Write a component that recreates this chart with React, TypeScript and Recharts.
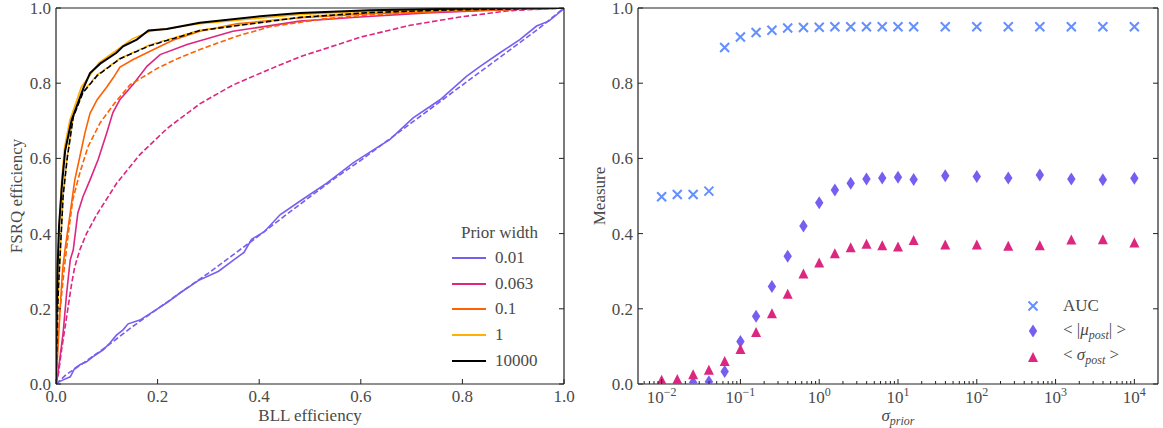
import React from 'react';
import { LineChart, Line, XAxis, YAxis, ScatterChart, Scatter, Legend } from 'recharts';

const FONT = '"Liberation Serif", "DejaVu Serif", serif';
const INK = '#4a4a4a';
const SPINE = '#222';
const FS = 17;

const PURPLE = '#785ef0';
const MAGENTA = '#dc267f';
const ORANGE = '#fe6100';
const GOLD = '#ffb000';
const BLUE = '#648fff';

// ---------- left panel: ROC curves [BLL efficiency, FSRQ efficiency]
const priorWidths = ['0.01', '0.063', '0.1', '1', '10000'];
const priorColors = [PURPLE, MAGENTA, ORANGE, GOLD, '#000'];

const solid001 = [[0,0],[0.005,0.005],[0.014,0.011],[0.028,0.019],[0.037,0.042],[0.047,0.051],[0.06,0.059],[0.073,0.073],[0.093,0.091],[0.106,0.109],[0.119,0.13],[0.132,0.144],[0.142,0.16],[0.165,0.17],[0.192,0.193],[0.218,0.216],[0.244,0.242],[0.28,0.275],[0.32,0.3],[0.35,0.33],[0.37,0.35],[0.385,0.385],[0.41,0.405],[0.441,0.45],[0.48,0.486],[0.533,0.534],[0.585,0.588],[0.631,0.628],[0.657,0.65],[0.703,0.708],[0.756,0.756],[0.808,0.818],[0.835,0.845],[0.874,0.881],[0.913,0.916],[0.946,0.952],[0.97,0.965],[0.998,0.996],[1,1]];
const dash001 = [[0,0],[0.02,0.025],[0.05,0.052],[0.1,0.1],[0.15,0.152],[0.2,0.2],[0.25,0.248],[0.3,0.295],[0.35,0.345],[0.4,0.395],[0.45,0.447],[0.5,0.498],[0.55,0.548],[0.6,0.595],[0.65,0.645],[0.7,0.695],[0.75,0.745],[0.8,0.795],[0.85,0.845],[0.9,0.895],[0.95,0.945],[1,1]];

const solid0063 = [[0,0],[0.003,0.019],[0.008,0.072],[0.014,0.136],[0.021,0.242],[0.028,0.33],[0.034,0.357],[0.043,0.455],[0.053,0.498],[0.067,0.543],[0.083,0.597],[0.1,0.668],[0.112,0.722],[0.126,0.757],[0.152,0.797],[0.179,0.845],[0.205,0.876],[0.258,0.903],[0.348,0.938],[0.48,0.965],[0.598,0.976],[0.73,0.987],[0.86,0.994],[1,1]];
const dash0063 = [[0,0],[0.005,0.029],[0.011,0.091],[0.021,0.179],[0.031,0.269],[0.037,0.312],[0.047,0.357],[0.06,0.4],[0.081,0.452],[0.12,0.535],[0.165,0.61],[0.219,0.68],[0.283,0.745],[0.348,0.795],[0.415,0.834],[0.48,0.87],[0.598,0.922],[0.697,0.954],[0.795,0.976],[0.894,0.993],[1,1]];

const solid01 = [[0,0],[0.0026,0.064],[0.008,0.197],[0.013,0.304],[0.018,0.36],[0.028,0.455],[0.037,0.543],[0.047,0.605],[0.057,0.668],[0.067,0.72],[0.081,0.756],[0.1,0.79],[0.113,0.815],[0.126,0.843],[0.152,0.863],[0.185,0.885],[0.231,0.915],[0.283,0.938],[0.356,0.958],[0.48,0.974],[0.618,0.985],[0.776,0.992],[1,1]];
const dash01 = [[0,0],[0.002,0.104],[0.008,0.197],[0.016,0.304],[0.024,0.397],[0.033,0.49],[0.047,0.562],[0.063,0.631],[0.087,0.695],[0.116,0.748],[0.146,0.796],[0.2,0.84],[0.24,0.866],[0.29,0.893],[0.356,0.925],[0.421,0.95],[0.52,0.97],[0.618,0.982],[0.776,0.992],[1,1]];

const solid1 = [[0,0],[0.001,0.2],[0.003,0.33],[0.011,0.54],[0.017,0.63],[0.027,0.7],[0.05,0.79],[0.085,0.855],[0.125,0.893],[0.15,0.918],[0.185,0.938],[0.283,0.958],[0.48,0.983],[0.618,0.992],[0.776,0.997],[1,1]];
const dash1 = [[0,0],[0.002,0.15],[0.005,0.26],[0.014,0.505],[0.022,0.605],[0.034,0.712],[0.053,0.777],[0.081,0.822],[0.126,0.866],[0.185,0.902],[0.283,0.941],[0.48,0.976],[0.618,0.988],[0.776,0.995],[1,1]];

const solid10000 = [[0,0],[0.001,0.17],[0.003,0.3],[0.006,0.42],[0.012,0.535],[0.018,0.62],[0.028,0.685],[0.031,0.703],[0.054,0.787],[0.067,0.827],[0.087,0.852],[0.119,0.881],[0.132,0.898],[0.159,0.916],[0.182,0.94],[0.218,0.944],[0.283,0.961],[0.402,0.978],[0.48,0.987],[0.618,0.994],[0.776,0.998],[1,1]];
const dash10000 = [[0,0],[0.002,0.15],[0.005,0.26],[0.014,0.5],[0.022,0.6],[0.034,0.71],[0.053,0.775],[0.081,0.82],[0.126,0.865],[0.185,0.9],[0.283,0.94],[0.48,0.975],[0.618,0.988],[0.776,0.995],[1,1]];

const solidCurves = [solid001, solid0063, solid01, solid1, solid10000];
const dashCurves = [dash001, dash0063, dash01, dash1, dash10000];
const unitTicks = [0, 0.2, 0.4, 0.6, 0.8, 1];

// ---------- right panel: measures vs prior width
const sigmaPrior = [0.01, 0.0158, 0.0251, 0.0398, 0.0631, 0.1, 0.158, 0.251, 0.398, 0.631, 1, 1.58, 2.51, 3.98, 6.31, 10, 15.8, 39.8, 100, 251, 631, 1585, 3981, 10000];
const auc = [0.498, 0.504, 0.504, 0.513, 0.895, 0.923, 0.935, 0.941, 0.947, 0.948, 0.949, 0.95, 0.95, 0.95, 0.95, 0.95, 0.95, 0.95, 0.95, 0.95, 0.95, 0.95, 0.95, 0.95];
const muPost = [0.002, 0.002, 0.004, 0.006, 0.033, 0.113, 0.18, 0.259, 0.34, 0.42, 0.482, 0.516, 0.534, 0.545, 0.548, 0.55, 0.544, 0.554, 0.552, 0.548, 0.556, 0.545, 0.543, 0.547];
const sigmaPost = [0.011, 0.013, 0.026, 0.038, 0.061, 0.093, 0.138, 0.188, 0.24, 0.294, 0.323, 0.348, 0.364, 0.373, 0.369, 0.366, 0.383, 0.371, 0.371, 0.368, 0.369, 0.384, 0.385, 0.376];

const LOG_MIN = Math.pow(10, -2.3);
const LOG_MAX = Math.pow(10, 4.3);
const logTicks: number[] = [];
for (let d = -3; d <= 4; d++) {
  for (let k = 1; k <= 9; k++) {
    const v = k * Math.pow(10, d);
    if (v >= LOG_MIN && v <= LOG_MAX) logTicks.push(v);
  }
}

const toPts = (a: number[][]) => a.map(([x, y]) => ({ x, y }));
const toSeries = (ys: number[]) => sigmaPrior.map((x, i) => ({ x, y: ys[i] }));

const isDecade = (v: number) => Math.abs(Math.log10(v) - Math.round(Math.log10(v))) < 1e-6;
const fmt1 = (v: number) => v.toFixed(1);
const fmtPow = (v: number) => {
  const e = Math.round(Math.log10(v));
  return (
    <>
      <tspan>10</tspan>
      <tspan dy={-7} fontSize={12}>{e < 0 ? '\u2212' + Math.abs(e) : String(e)}</tspan>
    </>
  );
};

const textStyle = { fontFamily: FONT, fontSize: FS, fill: INK } as const;

// tick renderers: x/y given are the spine position (tickSize=0, tickMargin=0); ticks point inward
const bottomTick = (fmt?: (v: number) => React.ReactNode, dy = 18, majorFn = (_v: number) => true) => (p: any) => {
  const v = p.payload.value;
  const major = majorFn(v);
  return (
    <g>
      <line x1={p.x} x2={p.x} y1={p.y} y2={p.y - (major ? 5 : 3)} stroke={SPINE} strokeWidth={1} />
      {major && fmt && (
        <text x={p.x} y={p.y + dy} textAnchor="middle" style={textStyle}>{fmt(v)}</text>
      )}
    </g>
  );
};
const topTick = (majorFn = (_v: number) => true) => (p: any) => {
  const major = majorFn(p.payload.value);
  return <line x1={p.x} x2={p.x} y1={p.y} y2={p.y + (major ? 5 : 3)} stroke={SPINE} strokeWidth={1} />;
};
const leftTick = (p: any) => (
  <g>
    <line x1={p.x} x2={p.x + 5} y1={p.y} y2={p.y} stroke={SPINE} strokeWidth={1} />
    <text x={p.x - 5} y={p.y + 6} textAnchor="end" style={textStyle}>{fmt1(p.payload.value)}</text>
  </g>
);
const rightTick = (p: any) => (
  <line x1={p.x} x2={p.x - 5} y1={p.y} y2={p.y} stroke={SPINE} strokeWidth={1} />
);

const xTitle = (content: React.ReactNode, dy: number) => (props: any) => {
  const vb = props.viewBox;
  return (
    <text x={vb.x + vb.width / 2} y={vb.y + dy} textAnchor="middle" style={textStyle}>{content}</text>
  );
};
const yTitle = (content: string, off: number) => (props: any) => {
  const vb = props.viewBox;
  const cx = vb.x + off;
  const cy = vb.y + vb.height / 2;
  return (
    <text x={cx} y={cy} textAnchor="middle" transform={`rotate(-90 ${cx} ${cy})`} style={textStyle}>{content}</text>
  );
};

const axisCommon = {
  tickSize: 0,
  tickMargin: 0,
  tickLine: false,
  interval: 0 as const,
  allowDataOverflow: true,
  axisLine: { stroke: SPINE, strokeWidth: 1.2 },
};

// markers
const XMark = ({ cx, cy }: any) => (
  <path d={`M${cx - 4.5},${cy - 4.5}L${cx + 4.5},${cy + 4.5}M${cx - 4.5},${cy + 4.5}L${cx + 4.5},${cy - 4.5}`} stroke={BLUE} strokeWidth={2} fill="none" />
);
const DMark = ({ cx, cy }: any) => (
  <path d={`M${cx},${cy - 6.5}L${cx + 4.2},${cy}L${cx},${cy + 6.5}L${cx - 4.2},${cy}Z`} fill={PURPLE} />
);
const TMark = ({ cx, cy }: any) => (
  <path d={`M${cx},${cy - 5}L${cx + 5},${cy + 5}L${cx - 5},${cy + 5}Z`} fill={MAGENTA} />
);

const RocLegend = () => (
  <div style={{ fontFamily: FONT, fontSize: FS, color: INK, width: 95 }}>
    <div style={{ textAlign: 'center', height: 24, lineHeight: '24px', marginTop: 1 }}>Prior width</div>
    {priorWidths.map((w, i) => (
      <div key={w} style={{ display: 'flex', alignItems: 'center', height: 25.7 }}>
        <svg width={34} height={4}>
          <line x1={0} x2={34} y1={2} y2={2} stroke={priorColors[i]} strokeWidth={2} />
        </svg>
        <span style={{ marginLeft: 9 }}>{w}</span>
      </div>
    ))}
  </div>
);

const measureLabels: React.ReactNode[] = [
  'AUC',
  <span>&lt; |<i>μ</i><sub style={{ fontSize: 12 }}><i>post</i></sub>| &gt;</span>,
  <span>&lt; <i>σ</i><sub style={{ fontSize: 12 }}><i>post</i></sub> &gt;</span>,
];
const measureMarks = [XMark, DMark, TMark];

const MeasureLegend = () => (
  <div style={{ fontFamily: FONT, fontSize: FS, color: INK }}>
    {measureLabels.map((lab, i) => {
      const M = measureMarks[i];
      return (
        <div key={i} style={{ display: 'flex', alignItems: 'center', height: 25.5 }}>
          <svg width={16} height={16}><M cx={8} cy={8} /></svg>
          <span style={{ marginLeft: 22 }}>{lab}</span>
        </div>
      );
    })}
  </div>
);

export default function App() {
  return (
    <div style={{ position: 'absolute', left: 0, top: 0, width: 1163, height: 428, background: '#fff' }}>
      <div style={{ position: 'absolute', left: 0, top: 0 }}>
        <LineChart width={590} height={428} margin={{ top: 7, right: 25, bottom: 24, left: 0 }}>
          <XAxis dataKey="x" type="number" domain={[0, 1]} ticks={unitTicks} height={20} {...axisCommon}
            tick={bottomTick(fmt1)} label={xTitle('BLL efficiency', 37)} />
          <XAxis xAxisId="top" orientation="top" type="number" domain={[0, 1]} ticks={unitTicks} height={1} {...axisCommon}
            tick={topTick()} />
          <YAxis type="number" domain={[0, 1]} ticks={unitTicks} width={56} {...axisCommon}
            tick={leftTick} label={yTitle('FSRQ efficiency', 22)} />
          <YAxis yAxisId="right" orientation="right" type="number" domain={[0, 1]} ticks={unitTicks} width={1} {...axisCommon}
            tick={rightTick} />
          {priorWidths.flatMap((w, i) => [
            <Line key={`s${w}`} data={toPts(solidCurves[i])} dataKey="y" type="linear" stroke={priorColors[i]}
              strokeWidth={i === 4 ? 2 : 1.6} dot={false} isAnimationActive={false} />,
            <Line key={`d${w}`} data={toPts(dashCurves[i])} dataKey="y" type="linear" stroke={priorColors[i]}
              strokeWidth={1.6} strokeDasharray="5.5 2.5" strokeDashoffset={i === 3 ? 4 : 0} dot={false} isAnimationActive={false} />,
          ])}
          <Legend layout="vertical" align="center" verticalAlign="middle" content={<RocLegend />}
            wrapperStyle={{ left: 452, top: 220, width: 'auto' }} />
        </LineChart>
      </div>
      <div style={{ position: 'absolute', left: 580, top: 0 }}>
        <ScatterChart width={583} height={428} margin={{ top: 7, right: 4, bottom: 24, left: 0 }}>
          <XAxis dataKey="x" type="number" scale="log" domain={[LOG_MIN, LOG_MAX]} ticks={logTicks} height={20} {...axisCommon}
            tick={bottomTick(fmtPow, 19, isDecade)}
            label={xTitle(<><tspan fontStyle="italic">σ</tspan><tspan fontStyle="italic" fontSize={12} dy={4}>prior</tspan></>, 37)} />
          <XAxis xAxisId="top" orientation="top" type="number" scale="log" domain={[LOG_MIN, LOG_MAX]} ticks={logTicks} height={1} {...axisCommon}
            tick={topTick(isDecade)} />
          <YAxis dataKey="y" type="number" domain={[0, 1]} ticks={unitTicks} width={58} {...axisCommon}
            tick={leftTick} label={yTitle('Measure', 25)} />
          <YAxis yAxisId="right" orientation="right" type="number" domain={[0, 1]} ticks={unitTicks} width={1} {...axisCommon}
            tick={rightTick} />
          <Scatter data={toSeries(auc)} shape={XMark} isAnimationActive={false} />
          <Scatter data={toSeries(muPost)} shape={DMark} isAnimationActive={false} />
          <Scatter data={toSeries(sigmaPost)} shape={TMark} isAnimationActive={false} />
          <Legend layout="vertical" align="center" verticalAlign="middle" content={<MeasureLegend />}
            wrapperStyle={{ left: 445, top: 293, width: 'auto' }} />
        </ScatterChart>
      </div>
    </div>
  );
}
